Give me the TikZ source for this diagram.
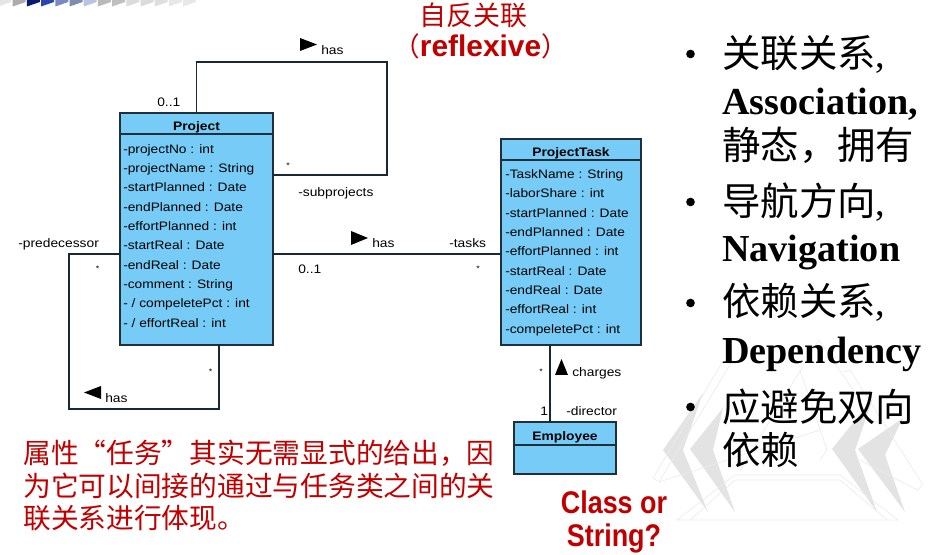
\documentclass[tikz,border=0pt]{standalone}
\usepackage{fontspec}
\setmainfont{Liberation Sans}
\newfontfamily\umlfont[FakeStretch=1.12]{Liberation Sans}
\newfontfamily\tallfont[FakeStretch=0.86]{Liberation Sans}
\newfontfamily\cjkfont{Noto Sans CJK SC}
\newfontfamily\bulletfont{Liberation Serif}
\usetikzlibrary{positioning}

\definecolor{classblue}{HTML}{77CCF7}
\definecolor{classline}{HTML}{1F2F3C}
\definecolor{slidered}{HTML}{C00000}
\definecolor{markgray}{HTML}{E3E3E3}
\definecolor{faintgray}{HTML}{EBEBEB}

\tikzset{
    classhead/.style = {draw = classline, fill = classblue, line width = 1.1pt, outer sep = 0pt, inner sep = 0pt,
                        text height = 11pt, text depth = 0pt,
                        font = \umlfont\fontsize{9.25}{10}\selectfont\bfseries},
    classbody/.style = {draw = classline, fill = classblue, line width = 1.1pt, outer sep = 0pt, inner sep = 0pt},
    attrlist/.style = {anchor = north west, inner sep = 0pt, align = left,
                       font = \umlfont\fontsize{9.2}{14.5}\selectfont},
    umltext/.style = {anchor = base west, inner sep = 0pt, font = \umlfont\fontsize{9.25}{10}\selectfont},
    star/.style = {inner sep = 0pt, font = \umlfont\fontsize{6}{7}\selectfont},
    assoc/.style = {draw = classline!85!black, line width = 1.1pt},
    bigcjk/.style = {anchor = base west, inner sep = 0pt, font = \cjkfont\fontsize{28.8}{30}\selectfont},
    bigbold/.style = {anchor = base west, inner sep = 0pt, font = \bulletfont\fontsize{28.6}{30}\selectfont\bfseries},
    redcjk/.style = {anchor = base west, inner sep = 0pt, text = slidered, font = \cjkfont\fontsize{20.8}{24}\selectfont},
    redbold/.style = {anchor = base, inner sep = 0pt, text = slidered, font = \tallfont\fontsize{23.5}{24}\selectfont\bfseries},
    bulletdot/.style = {circle, fill = black, minimum size = 6.5pt, inner sep = 0pt},
    markfill/.style = {fill = markgray},
    faint/.style = {draw = faintgray, line width = 0.5pt}
}

\begin{document}
\begin{tikzpicture}[x = 0.75pt, y = -0.75pt]
    \useasboundingbox (0,0) rectangle (936,555);

    % top strip
    \fill [white!80!gray] (-2,0) -- (11,0) -- (11,2) -- (-2,6.5) -- cycle;
    \fill [color = gray!65] (12.7,0) -- (25.7,0) -- (25.7,2) -- (12.7,6.5) -- cycle;
    \fill [color = {rgb,255:red,10;green,26;blue,112}] (26.9,0) -- (39.9,0) -- (39.9,2) -- (26.9,6.5) -- cycle;
    \fill [color = {rgb,255:red,42;green,69;blue,176}] (41.1,0) -- (54.1,0) -- (54.1,2) -- (41.1,6.5) -- cycle;
    \fill [color = {rgb,255:red,122;green,138;blue,192}] (55.3,0) -- (68.3,0) -- (68.3,2) -- (55.3,6.5) -- cycle;
    \fill [color = {rgb,255:red,125;green,141;blue,176}] (69.5,0) -- (82.5,0) -- (82.5,2) -- (69.5,6.5) -- cycle;
    \fill [color = {rgb,255:red,184;green,196;blue,230}] (83.7,0) -- (96.7,0) -- (96.7,2) -- (83.7,6.5) -- cycle;
    \fill [color = gray!55] (97.9,0) -- (110.9,0) -- (110.9,2) -- (97.9,6.5) -- cycle;
    \fill [color = gray!50] (112.1,0) -- (125.1,0) -- (125.1,2) -- (112.1,6.5) -- cycle;
    \fill [color = gray!28] (126.3,0) -- (139.3,0) -- (139.3,2) -- (126.3,6.5) -- cycle;
    \fill [color = gray!28] (140.5,0) -- (153.5,0) -- (153.5,2) -- (140.5,6.5) -- cycle;
    \fill [color = gray!25] (154.7,0) -- (167.7,0) -- (167.7,2) -- (154.7,6.5) -- cycle;
    \fill [color = gray!18] (168.9,0) -- (181.9,0) -- (181.9,2) -- (168.9,6.5) -- cycle;
    \fill [color = gray!18] (183.1,0) -- (196.1,0) -- (196.1,2) -- (183.1,6.5) -- cycle;

    % watermark
    \fill [markfill] (703,393) -- (663,450) -- (708,512) -- (683,450) -- cycle;
    \fill [markfill] (723,408) -- (690,449) -- (735,512) -- (713,450) -- cycle;
    \fill [markfill] (873,398) -- (832,449) -- (877,512) -- (855,450) -- cycle;
    \fill [markfill] (903,418) -- (858,449) -- (905,512) -- (885,455) -- cycle;
    \draw [faint] (677,520) -- (735,475) -- (840,475) -- (898,520) -- cycle;
    \draw [faint] (690,520) -- (735,480) -- (840,480) -- (887,520);
    \draw [faint] (653,478) -- (722,363) -- (731,363) -- (659,482) -- cycle;
    \draw [faint] (659,482) -- (820,430);
    \draw [faint] (800,370) -- (827,450) -- (820,460);
    \draw [faint] (923,485) -- (850,370) -- (843,372);
    \draw [faint] (923,485) -- (917,490) -- (860,460);
    \draw [faint] (740,470) -- (819,340) -- (860,400);

    % classes
    \node [classhead, minimum width = 114.75pt, minimum height = 15.75pt] (projectHead) at (196.5,123.5) {Project};
    \node [classbody, minimum width = 114.75pt, minimum height = 158.25pt, below = 0pt of projectHead] (projectBody) {};
    \node [attrlist] (projectAttrs) at (123,144) {-projectNo : int\\-projectName : String\\-startPlanned : Date\\-endPlanned : Date\\-effortPlanned : int\\-startReal : Date\\-endReal : Date\\-comment : String\\- / compeletePct : int\\- / effortReal : int};

    \node [classhead, minimum width = 105pt, minimum height = 15.75pt] (taskHead) at (571,149.5) {ProjectTask};
    \node [classbody, minimum width = 105pt, minimum height = 138.75pt, below = 0pt of taskHead] (taskBody) {};
    \node [attrlist] (taskAttrs) at (505,169.5) {-TaskName : String\\-laborShare : int\\-startPlanned : Date\\-endPlanned : Date\\-effortPlanned : int\\-startReal : Date\\-endReal : Date\\-effortReal : int\\-compeletePct : int};

    \node [classhead, minimum width = 76.5pt, minimum height = 17.25pt] (employeeHead) at (565,433.5) {Employee};
    \node [classbody, minimum width = 76.5pt, minimum height = 21.75pt, below = 0pt of employeeHead] (employeeBody) {};

    % connectors
    \coordinate (selfTopA) at (196.5,62);
    \coordinate (selfTopB) at (387,62);
    \coordinate (selfTopC) at (387,175);
    \coordinate (selfLeftA) at (69,254);
    \coordinate (selfLeftB) at (69,409);
    \coordinate (selfLeftC) at (219,409);
    \coordinate (chargesTop) at (550,345);
    \coordinate (hasRow) at (273,254);

    \draw [assoc] (projectHead.north) -- (selfTopA) -- (selfTopB) -- (selfTopC) -- (selfTopC -| projectBody.east);
    \draw [assoc] (selfLeftA -| projectBody.west) -- (selfLeftA) -- (selfLeftB) -- (selfLeftC) -- (selfLeftC |- projectBody.south);
    \draw [assoc] (hasRow -| projectBody.east) -- (hasRow -| taskBody.west);
    \draw [assoc] (chargesTop |- taskBody.south) -- (chargesTop |- employeeHead.north);

    % direction marks
    \fill (300,38) -- (317,44.5) -- (300,51) -- cycle;
    \fill (351,231) -- (368,238) -- (351,245) -- cycle;
    \fill (101,386) -- (84,392.5) -- (101,399) -- cycle;
    \fill (561.5,359) -- (568,375) -- (555,375) -- cycle;

    % labels
    \node [umltext] (rootMult) at (157,107) {0..1};
    \node [umltext] (hasTop) at (321,55) {has};
    \node [star] (subStar) at (288,165.5) {*};
    \node [umltext] (subRole) at (298,196.5) {-subprojects};
    \node [umltext] (hasMid) at (372,247.5) {has};
    \node [umltext] (tasksRole) at (449,247.5) {-tasks};
    \node [umltext] (tasksMult) at (298,273.5) {0..1};
    \node [star] (tasksStar) at (478,268.5) {*};
    \node [umltext] (predRole) at (18,247.5) {-predecessor};
    \node [star] (predStar) at (97.5,268.5) {*};
    \node [star] (succStar) at (210.5,371.5) {*};
    \node [umltext] (hasLow) at (105,402.5) {has};
    \node [star] (chargeStar) at (541,371.5) {*};
    \node [umltext] (chargesText) at (572,376.5) {charges};
    \node [umltext] (directorMult) at (540,415.5) {1};
    \node [umltext] (directorRole) at (566,415.5) {-director};

    % red notes
    \node [anchor = base west, inner sep = 0pt, text = slidered, font = \cjkfont\fontsize{20.2}{24}\selectfont] (reflexCn) at (419,26) {自反关联};
    \node [anchor = base west, inner sep = 0pt, text = slidered, font = \fontsize{20}{24}\selectfont] (reflexEn) at (393,57) {{\cjkfont （}{\fontsize{22.4}{24}\selectfont\bfseries reflexive}{\cjkfont ）}};
    \node [redcjk] (noteA) at (23,464) {属性“任务”其实无需显式的给出，因};
    \node [redcjk] (noteB) at (23,497) {为它可以间接的通过与任务类之间的关};
    \node [redcjk] (noteC) at (23,529) {联关系进行体现。};
    \node [redbold] (classOr) at (614,514) {Class or};
    \node [redbold] (stringQ) at (614,547) {String?};

    % right list
    \node [bulletdot] (dotA) at (690.5,54) {};
    \node [bulletdot] (dotB) at (690.5,202) {};
    \node [bulletdot] (dotC) at (690.5,303) {};
    \node [bulletdot] (dotD) at (690.5,407) {};
    \node [bigcjk] (assocCn) at (722,68) {关联关系{\bulletfont ,}};
    \node [bigbold] (assocEn) at (722,114.5) {Association,};
    \node [bigcjk] (assocNote) at (722,160) {静态，拥有};
    \node [bigcjk] (navCn) at (722,216) {导航方向{\bulletfont ,}};
    \node [bigbold] (navEn) at (722,261.5) {Navigation};
    \node [bigcjk] (depCn) at (722,316) {依赖关系{\bulletfont ,}};
    \node [bigbold] (depEn) at (722,363.5) {Dependency};
    \node [bigcjk] (avoidA) at (722,422) {应避免双向};
    \node [bigcjk] (avoidB) at (722,465) {依赖};
\end{tikzpicture}
\end{document}
